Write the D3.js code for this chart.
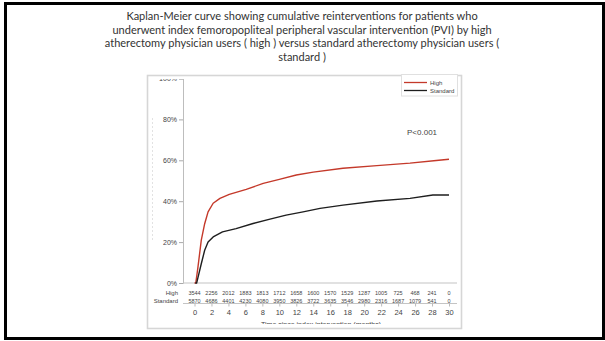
<!doctype html>
<html>
<head>
<meta charset="utf-8">
<script src="https://cdnjs.cloudflare.com/ajax/libs/d3/7.8.5/d3.min.js"></script>
<style>
  body { margin: 0; background: #fff; }
  text.title { font-family: Lato, "Open Sans", sans-serif; font-size: 11px; fill: #333; }
  .ch { font-family: "Liberation Sans", Arial, sans-serif; fill: #444; }
  path.km { fill: none; stroke-width: 1.4; stroke-linejoin: round; }
</style>
</head>
<body>
<svg width="605" height="341"></svg>
<script>
// chart data
var titleLines = [
  "Kaplan-Meier curve showing cumulative reinterventions for patients who",
  "underwent index femoropopliteal peripheral vascular intervention (PVI) by high",
  "atherectomy physician users ( high ) versus standard atherectomy physician users (",
  "standard )"
];
var seriesNames = ["High", "Standard"];
var seriesColors = ["#c4392a", "#1e1e1e"];
// months, cumulative %
var highMonths = [0, 0.15, 0.4, 0.8, 1.2, 1.6, 2.2, 3, 4.1, 6.1, 8.1, 10, 12, 14, 17.5, 21.5, 25.4, 28.5, 30];
var highPct    = [0, 0, 7.5, 21, 29, 34.8, 39, 41.4, 43.3, 45.8, 48.7, 50.7, 52.8, 54.2, 56.1, 57.4, 58.6, 59.9, 60.5];
var stdMonths  = [0.1, 0.25, 0.4, 0.8, 1.2, 1.6, 2.2, 3.3, 4.9, 6.9, 8.9, 10.8, 12.8, 14.8, 17.5, 21.5, 25.4, 28.1, 30];
var stdPct     = [0, 0, 2.5, 9.4, 16, 20, 22.5, 25, 26.6, 29.1, 31.2, 33.2, 34.8, 36.5, 38.1, 40.1, 41.4, 43, 43];
var xTicks = [0, 2, 4, 6, 8, 10, 12, 14, 16, 18, 20, 22, 24, 26, 28, 30];
var yTicks = [0, 20, 40, 60, 80, 100];
var riskHigh = [3544, 2256, 2012, 1883, 1813, 1712, 1658, 1600, 1570, 1529, 1287, 1005, 725, 468, 241, 0];
var riskStd  = [5870, 4686, 4401, 4230, 4080, 3950, 3826, 3722, 3635, 3546, 2980, 2316, 1687, 1079, 541, 0];
var pText = "P<0.001";
var xTitle = "Time since index intervention (months)";

var svg = d3.select("svg");

// slide frame
svg.append("rect").attr("x", 5.5).attr("y", 3.5).attr("width", 598).attr("height", 335)
  .attr("fill", "#fff").attr("stroke", "#000").attr("stroke-width", 3);

svg.selectAll("text.title").data(titleLines).enter()
  .append("text").attr("class", "title")
  .attr("x", 302).attr("y", function (d, i) { return 20 + i * 13.5; })
  .attr("text-anchor", "middle")
  .text(function (d) { return d; });

// figure image box
svg.append("rect").attr("x", 147.5).attr("y", 75.5).attr("width", 314).attr("height", 253)
  .attr("fill", "#fff").attr("stroke", "#d6d6d6").attr("stroke-width", 1.6);
svg.append("defs").append("clipPath").attr("id", "fig")
  .append("rect").attr("x", 148).attr("y", 79).attr("width", 313).attr("height", 245);

var g = svg.append("g").attr("clip-path", "url(#fig)");

var x = d3.scaleLinear().domain([0, 30]).range([194.5, 449]);
var y = d3.scaleLinear().domain([0, 100]).range([283, 78.5]);

// faint scan artefact line on the left
g.append("line").attr("x1", 152.5).attr("x2", 152.5).attr("y1", 118).attr("y2", 240)
  .attr("stroke", "#e2e2e2").attr("stroke-dasharray", "2,2");

// y axis
var yAxis = d3.axisLeft(y).tickValues(yTicks).tickSize(4).tickPadding(2)
  .tickFormat(function (d) { return d + "%"; });
var ya = g.append("g").attr("transform", "translate(183,0)").call(yAxis);
ya.select(".domain").attr("stroke", "#bdbdbd");
ya.selectAll(".tick line").attr("stroke", "#aaa");
ya.selectAll("text").attr("class", "ch").style("font-size", "7px").attr("fill", "#555");
ya.selectAll(".tick").filter(function (d) { return d === 100; }).select("text").attr("fill", "#aaa");

// zero baseline
g.append("line").attr("x1", 183).attr("x2", 457).attr("y1", y(0)).attr("y2", y(0))
  .attr("stroke", "#c4c4c4").attr("stroke-width", 1.2);

// curves
var line = d3.line().x(function (d) { return x(d[0]); }).y(function (d) { return y(d[1]); });
var curves = [d3.zip(highMonths, highPct), d3.zip(stdMonths, stdPct)];
g.selectAll("path.km").data(curves).enter()
  .append("path").attr("class", "km")
  .attr("stroke", function (d, i) { return seriesColors[i]; })
  .attr("d", line);

// numbers at risk
var rows = [riskHigh, riskStd];
rows.forEach(function (row, r) {
  var yy = 294.5 + r * 8.5;
  g.append("text").attr("class", "ch").attr("x", 178).attr("y", yy)
    .attr("text-anchor", "end").style("font-size", "6px").attr("fill", "#555")
    .text(seriesNames[r]);
  g.selectAll(null).data(row).enter()
    .append("text").attr("class", "ch")
    .attr("x", function (d, i) { return x(xTicks[i]); }).attr("y", yy)
    .attr("text-anchor", "middle").style("font-size", "5.5px").attr("fill", "#555")
    .text(function (d) { return d; });
});

// x axis under the risk table
var xAxis = d3.axisBottom(x).tickValues(xTicks).tickSize(3).tickPadding(3);
var xa = g.append("g").attr("transform", "translate(0,303.5)").call(xAxis);
xa.select(".domain").attr("d", "M183,0H457").attr("stroke", "#c4c4c4");
xa.selectAll(".tick line").attr("stroke", "#bbb");
xa.selectAll("text").attr("class", "ch").style("font-size", "7.5px").attr("fill", "#444");

g.append("text").attr("class", "ch").attr("x", 321).attr("y", 327)
  .attr("text-anchor", "middle").style("font-size", "7px").attr("fill", "#666")
  .text(xTitle);

// p value
g.append("text").attr("class", "ch").attr("x", 407).attr("y", 134.5)
  .style("font-size", "8px").attr("fill", "#222").text(pText);

// legend
var lg = svg.append("g");
lg.append("rect").attr("x", 401.5).attr("y", 74.5).attr("width", 56).attr("height", 21.5)
  .attr("fill", "#fff").attr("stroke", "#e0e0e0");
lg.selectAll("line").data(seriesNames).enter().append("line")
  .attr("x1", 404).attr("x2", 427)
  .attr("y1", function (d, i) { return 82.5 + i * 8; }).attr("y2", function (d, i) { return 82.5 + i * 8; })
  .attr("stroke", function (d, i) { return seriesColors[i]; }).attr("stroke-width", 1.3);
lg.selectAll("text").data(seriesNames).enter().append("text").attr("class", "ch")
  .attr("x", 430).attr("y", function (d, i) { return 84.7 + i * 8; })
  .style("font-size", "6px").attr("fill", "#555")
  .text(function (d) { return d; });
</script>
</body>
</html>
